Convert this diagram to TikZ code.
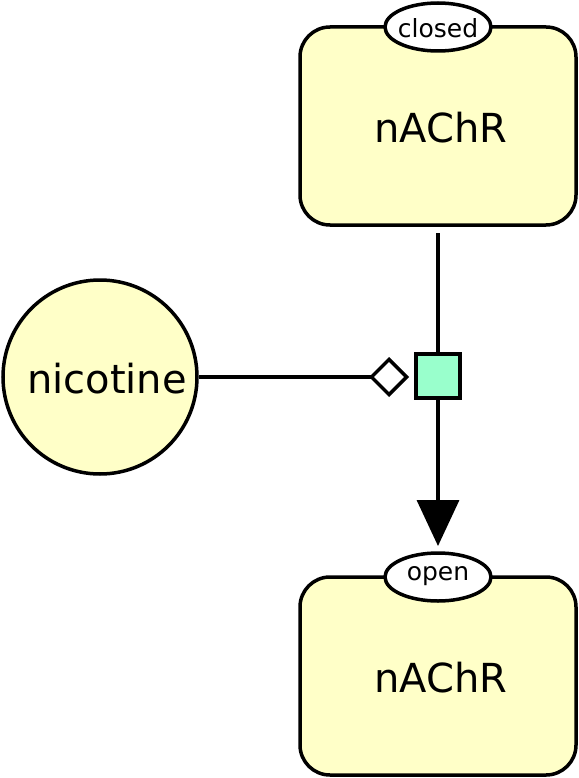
\documentclass[tikz,border=0pt]{standalone}
\usepackage{fontspec}
\setmainfont{DejaVu Sans}
\usetikzlibrary{arrows.meta,shapes.geometric}
\definecolor{epnfill}{RGB}{255,255,200}
\definecolor{procfill}{RGB}{153,255,204}
\tikzset{
  epn/.style={draw=black,line width=3.5pt,fill=epnfill,rounded corners=30pt,minimum width=276pt,minimum height=198pt,inner sep=0pt},
  svar/.style={draw=black,line width=3.5pt,fill=white,ellipse,minimum width=106pt,minimum height=48pt,inner sep=0pt},
  svlabel/.style={inner sep=0pt,font=\fontsize{25}{30}\selectfont},
  biglabel/.style={inner sep=0pt,font=\fontsize{40}{46}\selectfont},
  simple/.style={draw=black,line width=3.5pt,fill=epnfill,circle,minimum size=194pt,inner sep=0pt},
  proc/.style={draw=black,line width=3.5pt,fill=procfill,minimum size=44pt,inner sep=0pt},
  arc/.style={line width=3.5pt,draw=black}
}
\begin{document}
\begin{tikzpicture}[x=1pt,y=-1pt]
\useasboundingbox (0,0) rectangle (578,778);
\node[epn] (closed) at (438,126) {};
\node[biglabel] (lclosed) at (441,128) {nAChR};
\node[svar] (sclosed) at (438,27) {};
\node[svlabel] (tclosed) at (438,28) {closed};
\node[epn] (open) at (438,676) {};
\node[biglabel] (lopen) at (441,678) {nAChR};
\node[svar] (sopen) at (438,577) {};
\node[svlabel] (topen) at (438,576) {open};
\node[simple] (nic) at (100,377) {};
\node[biglabel] (lnic) at (107,379) {nicotine};
\node[proc] (p) at (438,376) {};
\coordinate (cin) at (438,233);
\coordinate (ptip) at (438,546);
\coordinate (dtip) at (409,377);
\draw[arc] (cin) -- (p.north);
\draw[arc,-{Triangle[length=46pt,width=42pt]}] (p.south) -- (ptip);
\draw[arc,-{Diamond[open,length=40pt,width=40pt]}] (nic.east) -- (dtip);
\end{tikzpicture}
\end{document}
